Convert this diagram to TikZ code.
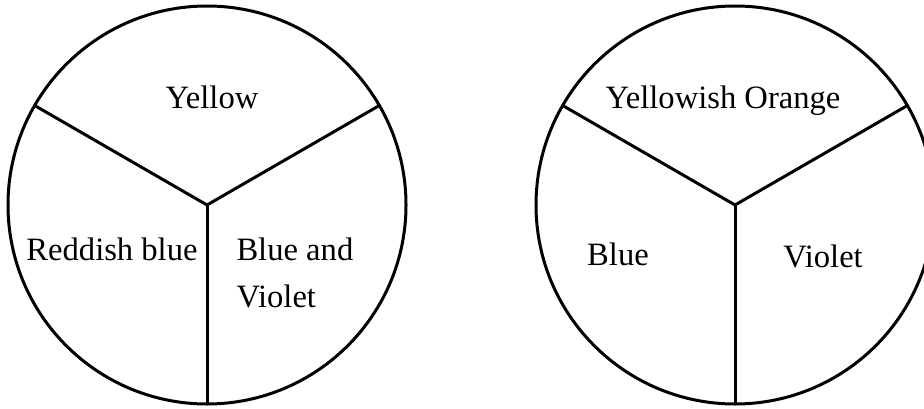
\documentclass[tikz,border=0pt]{standalone}
\usepackage{fontspec}
\setmainfont{Liberation Serif}
\usepackage{tikz}

\begin{document}
\begin{tikzpicture}[x=0.5pt,y=0.5pt,line width=1.5pt]
\tikzstyle{lbl}=[font=\fontsize{16.3}{23.5}\selectfont,inner sep=0pt,anchor=base]
\useasboundingbox (0,0) rectangle (924,408);
\clip (0,0) rectangle (924,408);
% left wheel
\coordinate (o1) at (207,203);
\draw (o1) circle (199);
\foreach \a in {30,150,270} \draw (o1) -- +(\a:199);
\node[lbl] (yel) at (212,300) {Yellow};
\node[lbl] (red) at (112,148) {Reddish blue};
\node[lbl,anchor=base west] (bav) at (235,148) {Blue and};
\node[lbl,anchor=base west] (vio1) at (235,101) {Violet};
% right wheel
\coordinate (o2) at (735,203);
\draw (o2) circle (199);
\foreach \a in {30,150,270} \draw (o2) -- +(\a:199);
\node[lbl] (yor) at (723,300) {Yellowish Orange};
\node[lbl] (blu) at (618,143) {Blue};
\node[lbl] (vio2) at (823,141) {Violet};
\end{tikzpicture}
\end{document}
